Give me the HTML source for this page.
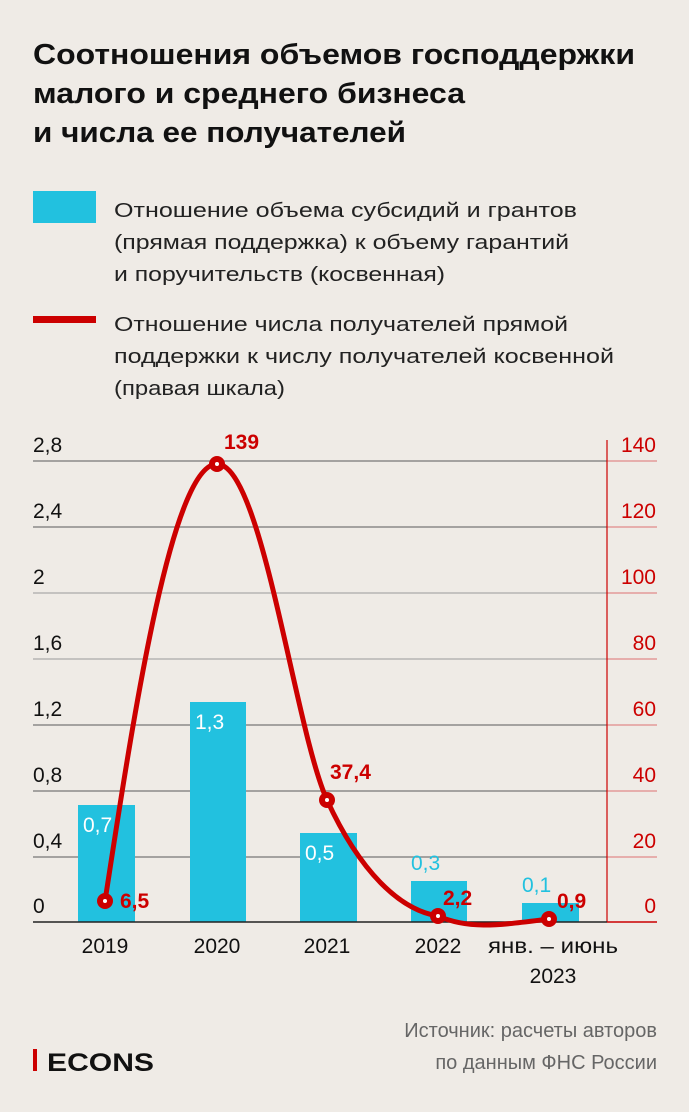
<!DOCTYPE html>
<html><head><meta charset="utf-8"><style>
html,body{margin:0;padding:0;background:#efebe6;}
svg{display:block;font-family:"Liberation Sans",sans-serif;}
</style></head><body>
<svg width="689" height="1112" viewBox="0 0 689 1112" xmlns="http://www.w3.org/2000/svg">
<rect width="689" height="1112" fill="#efebe6"/>
<g font-weight="bold" font-size="29" fill="#111">
<text x="33" y="64" textLength="602" lengthAdjust="spacingAndGlyphs">Соотношения объемов господдержки</text>
<text x="33" y="103" textLength="432" lengthAdjust="spacingAndGlyphs">малого и среднего бизнеса</text>
<text x="33" y="142" textLength="373" lengthAdjust="spacingAndGlyphs">и числа ее получателей</text>
</g>
<rect x="33" y="191" width="63" height="32" fill="#22c1df"/>
<rect x="33" y="316" width="63" height="7" fill="#cc0000"/>
<g font-size="20" fill="#222">
<text x="114" y="217" textLength="463" lengthAdjust="spacingAndGlyphs">Отношение объема субсидий и грантов</text>
<text x="114" y="249" textLength="455" lengthAdjust="spacingAndGlyphs">(прямая поддержка) к объему гарантий</text>
<text x="114" y="281" textLength="331" lengthAdjust="spacingAndGlyphs">и поручительств (косвенная)</text>
<text x="114" y="331" textLength="454" lengthAdjust="spacingAndGlyphs">Отношение числа получателей прямой</text>
<text x="114" y="363" textLength="500" lengthAdjust="spacingAndGlyphs">поддержки к числу получателей косвенной</text>
<text x="114" y="395" textLength="171" lengthAdjust="spacingAndGlyphs">(правая шкала)</text>
</g>
<!-- gridlines -->
<g stroke-width="1.2">
<line x1="33" x2="607" y1="461" y2="461" stroke="#777"/>
<line x1="33" x2="607" y1="527" y2="527" stroke="#777"/>
<line x1="33" x2="607" y1="593" y2="593" stroke="#aaa"/>
<line x1="33" x2="607" y1="659" y2="659" stroke="#aaa"/>
<line x1="33" x2="607" y1="725" y2="725" stroke="#777"/>
<line x1="33" x2="607" y1="791" y2="791" stroke="#777"/>
<line x1="33" x2="607" y1="857" y2="857" stroke="#777"/>
</g>
<g stroke="#e08a8a" stroke-width="1.2">
<line x1="607" x2="657" y1="461" y2="461"/><line x1="607" x2="657" y1="527" y2="527"/>
<line x1="607" x2="657" y1="593" y2="593"/><line x1="607" x2="657" y1="659" y2="659"/>
<line x1="607" x2="657" y1="725" y2="725"/><line x1="607" x2="657" y1="791" y2="791"/>
<line x1="607" x2="657" y1="857" y2="857"/>
</g>
<line x1="607" x2="657" y1="922" y2="922" stroke="#cc0000" stroke-width="1.5"/>
<line x1="607" x2="607" y1="440" y2="922" stroke="#cc0000" stroke-width="1.2"/>
<g font-size="21" fill="#111">
<text x="33" y="452">2,8</text><text x="33" y="518">2,4</text><text x="33" y="584">2</text>
<text x="33" y="650">1,6</text><text x="33" y="716">1,2</text><text x="33" y="782">0,8</text>
<text x="33" y="848">0,4</text><text x="33" y="913">0</text>
</g>
<g font-size="21" fill="#cc0000" text-anchor="end">
<text x="656" y="452">140</text><text x="656" y="518">120</text><text x="656" y="584">100</text>
<text x="656" y="650">80</text><text x="656" y="716">60</text><text x="656" y="782">40</text>
<text x="656" y="848">20</text><text x="656" y="913">0</text>
</g>
<g fill="#22c1df">
<rect x="78" y="805" width="57" height="117"/>
<rect x="190" y="702" width="56" height="220"/>
<rect x="300" y="833" width="57" height="89"/>
<rect x="411" y="881" width="56" height="41"/>
<rect x="522" y="903" width="57" height="19"/>
</g>
<line x1="33" x2="607" y1="922" y2="922" stroke="#222" stroke-width="1.5"/>
<g font-size="21" fill="#fff">
<text x="83" y="832">0,7</text><text x="195" y="729">1,3</text><text x="305" y="860">0,5</text>
</g>
<g font-size="21" fill="#22c1df">
<text x="411" y="870">0,3</text><text x="522" y="892">0,1</text>
</g>
<path d="M105,901 C130,740 170,464 217,464 C262,464 295,730 327,800 C360,872 400,910 438,916 C470,930 500,925 549,919" fill="none" stroke="#cc0000" stroke-width="5"/>
<g fill="#cc0000"><circle cx="105" cy="901" r="8"/><circle cx="217" cy="464" r="8"/><circle cx="327" cy="800" r="8"/><circle cx="438" cy="916" r="8"/><circle cx="549" cy="919" r="8"/></g>
<g fill="#fff"><circle cx="105" cy="901" r="2"/><circle cx="217" cy="464" r="2"/><circle cx="327" cy="800" r="2"/><circle cx="438" cy="916" r="2"/><circle cx="549" cy="919" r="2"/></g>
<g font-size="21" fill="#cc0000" font-weight="bold">
<text x="120" y="908">6,5</text><text x="224" y="449">139</text><text x="330" y="779">37,4</text>
<text x="443" y="905">2,2</text><text x="557" y="908">0,9</text>
</g>
<g font-size="21" fill="#111" text-anchor="middle">
<text x="105" y="953">2019</text><text x="217" y="953">2020</text><text x="327" y="953">2021</text><text x="438" y="953">2022</text>
<text x="553" y="953" textLength="130" lengthAdjust="spacingAndGlyphs">янв. – июнь</text><text x="553" y="983">2023</text>
</g>
<rect x="33" y="1049" width="4" height="22" fill="#cc0000"/>
<text x="47" y="1071" font-size="25" font-weight="bold" fill="#111" textLength="107" lengthAdjust="spacingAndGlyphs">ECONS</text>
<g font-size="20" fill="#666" text-anchor="end">
<text x="657" y="1037">Источник: расчеты авторов</text>
<text x="657" y="1069">по данным ФНС России</text>
</g>
</svg>
</body></html>
